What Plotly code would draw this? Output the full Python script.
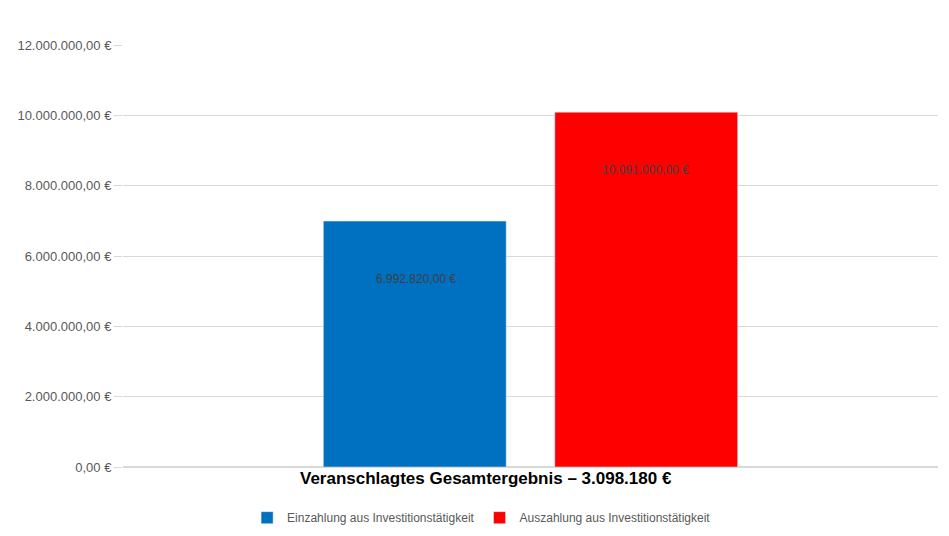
import plotly.graph_objects as go

categories = ["Gesamt"]
title_text = "Veranschlagtes Gesamtergebnis – 3.098.180 €"
series_names = ["Einzahlung aus Investitionstätigkeit", "Auszahlung aus Investitionstätigkeit"]
series_values = [6992820.00, 10091000.00]
series_colors = ["#0070c0", "#ff0000"]
tick_vals = [0, 2000000, 4000000, 6000000, 8000000, 10000000, 12000000]


def de_fmt(v):
    s = f"{v:,.2f}"
    return s.replace(",", "X").replace(".", ",").replace("X", ".") + " €"


fig = go.Figure()
for name, val, col in zip(series_names, series_values, series_colors):
    fig.add_trace(go.Bar(x=categories, y=[val], name=name, marker_color=col))

# value labels sit a bit below the bar top, like the original
for i, val in enumerate(series_values):
    fig.add_annotation(x=categories[0], y=val, text=de_fmt(val), showarrow=False,
                       xshift=(-115 if i == 0 else 115), yshift=-58,
                       font=dict(size=12, color="#404040"))

fig.add_annotation(x=0.5, xref="paper", xshift=-45, y=-0.055, yref="paper",
                   text="<b>" + title_text + "</b>", showarrow=False,
                   font=dict(size=17, color="black"))

fig.update_layout(
    width=949, height=536,
    margin=dict(l=115, r=19, t=37, b=68),
    paper_bgcolor="white", plot_bgcolor="white",
    font=dict(family="Liberation Sans, Arial", size=13, color="#595959"),
    barmode="group", bargap=0.432, bargroupgap=0.21,
    showlegend=True,
    legend=dict(orientation="h", x=0.44, xanchor="center", y=-0.12, yanchor="middle",
                font=dict(size=12, color="#595959"), itemwidth=30, tracegroupgap=0),
)
fig.update_xaxes(showticklabels=False, showline=False, automargin=False)
fig.update_yaxes(range=[0, 12000000.1], tickvals=tick_vals, ticktext=[de_fmt(v) for v in tick_vals],
                 showgrid=True, gridcolor="#d9d9d9", zeroline=True, zerolinecolor="#d9d9d9",
                 ticks="outside", ticklen=8, tickcolor="#d9d9d9", automargin=False)

fig.write_html("out.html")
